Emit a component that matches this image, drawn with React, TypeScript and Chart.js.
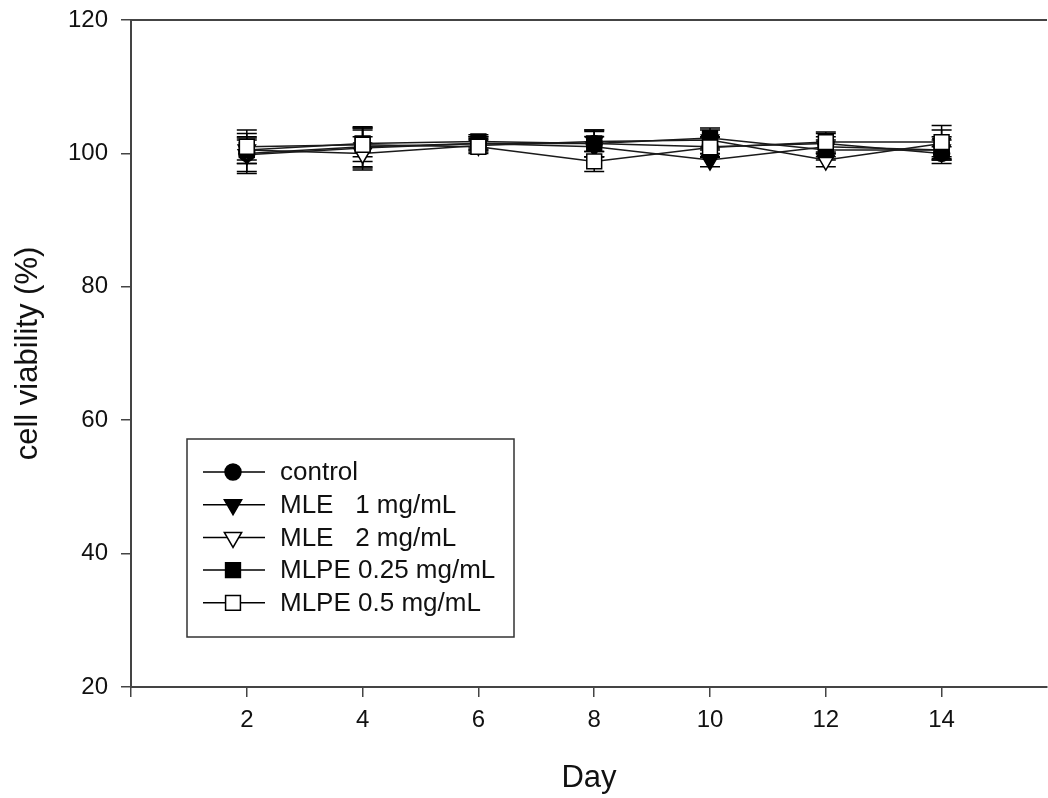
import React, { useEffect, useRef } from "react";
import { Chart, registerables } from "chart.js";

Chart.register(...registerables);

const days = [2, 4, 6, 8, 10, 12, 14];
const xTicks = [0, 2, 4, 6, 8, 10, 12, 14];
const yTicks = [20, 40, 60, 80, 100, 120];

const seriesNames = ["control", "MLE   1 mg/mL", "MLE   2 mg/mL", "MLPE 0.25 mg/mL", "MLPE 0.5 mg/mL"];

const control = [100.0, 101.0, 101.5, 101.5, 101.0, 101.5, 100.0];
const controlErr = [3.0, 3.0, 1.0, 2.0, 1.5, 1.5, 1.0];
const mle1 = [99.8, 100.8, 101.5, 101.0, 99.0, 101.0, 100.5];
const mle1Err = [2.5, 3.0, 1.0, 1.5, 1.0, 1.5, 1.5];
const mle2 = [100.5, 100.0, 101.2, 101.8, 102.0, 99.0, 101.5];
const mle2Err = [2.0, 2.5, 1.0, 1.5, 1.5, 1.0, 2.0];
const mlpe025 = [100.5, 101.5, 101.8, 101.5, 102.3, 100.5, 100.5];
const mlpe025Err = [1.5, 2.0, 1.0, 2.0, 1.5, 1.5, 2.0];
const mlpe05 = [101.0, 101.3, 101.0, 98.8, 100.9, 101.7, 101.7];
const mlpe05Err = [2.5, 2.5, 1.0, 1.5, 1.5, 1.5, 2.5];

const seriesValues = [control, mle1, mle2, mlpe025, mlpe05];
const seriesErrors = [controlErr, mle1Err, mle2Err, mlpe025Err, mlpe05Err];

const FONT = "'Liberation Sans', Arial, sans-serif";
const INK = "#111";
const AXIS = "#444";

type MarkerKind = { shape: "circle" | "tri" | "rect"; fill: string; radius: number };
const markers: MarkerKind[] = [
  { shape: "circle", fill: "#000", radius: 8 },
  { shape: "tri", fill: "#000", radius: 10 },
  { shape: "tri", fill: "#fff", radius: 10 },
  { shape: "rect", fill: "#000", radius: 10.5 },
  { shape: "rect", fill: "#fff", radius: 10.5 },
];

function drawMarker(ctx: CanvasRenderingContext2D, m: MarkerKind, x: number, y: number, r: number) {
  ctx.beginPath();
  if (m.shape === "circle") {
    ctx.arc(x, y, r, 0, Math.PI * 2);
  } else if (m.shape === "tri") {
    for (let k = 0; k < 3; k++) {
      const a = Math.PI + (k * 2 * Math.PI) / 3;
      const px = x + Math.sin(a) * r;
      const py = y - Math.cos(a) * r;
      if (k === 0) ctx.moveTo(px, py);
      else ctx.lineTo(px, py);
    }
    ctx.closePath();
  } else {
    const s = r * Math.SQRT1_2;
    ctx.rect(x - s, y - s, 2 * s, 2 * s);
  }
  ctx.fillStyle = m.fill;
  ctx.fill();
  ctx.strokeStyle = "#000";
  ctx.lineWidth = 1.5;
  ctx.stroke();
}

const errorBarPlugin = {
  id: "errorBars",
  beforeDatasetsDraw(chart: any) {
    const ctx = chart.ctx as CanvasRenderingContext2D;
    const xs = chart.scales.x;
    const ys = chart.scales.y;
    ctx.save();
    ctx.strokeStyle = "#000";
    ctx.lineWidth = 1.5;
    seriesValues.forEach((vals, i) => {
      vals.forEach((v, j) => {
        const e = seriesErrors[i][j];
        const x = xs.getPixelForValue(days[j]);
        const yt = ys.getPixelForValue(v + e);
        const yb = ys.getPixelForValue(v - e);
        ctx.beginPath();
        ctx.moveTo(x, yt);
        ctx.lineTo(x, yb);
        ctx.moveTo(x - 10, yt);
        ctx.lineTo(x + 10, yt);
        ctx.moveTo(x - 10, yb);
        ctx.lineTo(x + 10, yb);
        ctx.stroke();
      });
    });
    ctx.restore();
  },
};

const decorPlugin = {
  id: "decor",
  afterDraw(chart: any) {
    const ctx = chart.ctx as CanvasRenderingContext2D;
    const a = chart.chartArea;
    ctx.save();
    // top frame line
    ctx.strokeStyle = AXIS;
    ctx.lineWidth = 2;
    ctx.beginPath();
    ctx.moveTo(a.left, a.top);
    ctx.lineTo(a.right, a.top);
    ctx.stroke();

    // axis titles
    ctx.fillStyle = INK;
    ctx.font = `31px ${FONT}`;
    ctx.textAlign = "center";
    ctx.textBaseline = "middle";
    ctx.fillText("Day", (a.left + a.right) / 2, 778);
    ctx.save();
    ctx.translate(28, (a.top + a.bottom) / 2);
    ctx.rotate(-Math.PI / 2);
    ctx.fillText("cell viability (%)", 0, 0);
    ctx.restore();

    // legend
    const bx = a.left + 56;
    const by = a.top + 419;
    ctx.strokeStyle = "#333";
    ctx.lineWidth = 1.5;
    ctx.strokeRect(bx, by, 327, 198);
    ctx.font = `26px ${FONT}`;
    ctx.textAlign = "left";
    seriesNames.forEach((name, i) => {
      const y = by + 33 + i * 32.7;
      ctx.strokeStyle = "#000";
      ctx.lineWidth = 1.5;
      ctx.beginPath();
      ctx.moveTo(bx + 16, y);
      ctx.lineTo(bx + 78, y);
      ctx.stroke();
      drawMarker(ctx, markers[i], bx + 46, y, markers[i].radius);
      ctx.fillStyle = INK;
      ctx.fillText(name, bx + 93, y + 1);
    });
    ctx.restore();
  },
};

export default function App() {
  const ref = useRef<HTMLCanvasElement | null>(null);
  useEffect(() => {
    if (!ref.current) return;
    const datasets = seriesValues.map((vals, i) => {
      const m = markers[i];
      return {
        label: seriesNames[i],
        data: vals.map((v, j) => ({ x: days[j], y: v })),
        borderColor: "#1a1a1a",
        borderWidth: 1.5,
        backgroundColor: m.fill,
        pointBackgroundColor: m.fill,
        pointBorderColor: "#000",
        pointBorderWidth: 1.5,
        pointRadius: m.radius,
        pointHoverRadius: m.radius,
        pointStyle: m.shape === "circle" ? "circle" : m.shape === "tri" ? "triangle" : "rect",
        pointRotation: m.shape === "tri" ? 180 : 0,
        tension: 0,
        fill: false,
        order: 4 - i,
      };
    });
    const chart = new Chart(ref.current, {
      type: "line",
      data: { datasets } as any,
      options: {
        animation: false,
        responsive: false,
        maintainAspectRatio: false,
        layout: { autoPadding: false, padding: { top: 20, right: 1, left: 0, bottom: 0 } },
        plugins: { legend: { display: false }, tooltip: { enabled: false } },
        scales: {
          x: {
            type: "linear",
            min: 0,
            max: 15.82,
            afterFit: (s: any) => {
              s.height = 111;
              s.paddingLeft = 0;
              s.paddingRight = 0;
            },
            afterBuildTicks: (s: any) => {
              s.ticks = xTicks.map((v) => ({ value: v }));
            },
            ticks: {
              autoSkip: false,
              maxRotation: 0,
              padding: 9,
              color: INK,
              font: { family: FONT, size: 24 },
              callback: (v: any) => (v === 0 ? "" : String(v)),
            },
            grid: { drawOnChartArea: false, drawTicks: true, tickLength: 10, color: AXIS, lineWidth: 1.5 },
            border: { display: true, color: AXIS, width: 2 },
          },
          y: {
            type: "linear",
            min: 20,
            max: 120,
            afterFit: (s: any) => {
              s.width = 131;
              s.paddingTop = 0;
              s.paddingBottom = 0;
            },
            afterBuildTicks: (s: any) => {
              s.ticks = yTicks.map((v) => ({ value: v }));
            },
            ticks: {
              autoSkip: false,
              padding: 13,
              color: INK,
              font: { family: FONT, size: 24 },
              callback: (v: any) => String(v),
            },
            grid: { drawOnChartArea: false, drawTicks: true, tickLength: 10, color: AXIS, lineWidth: 1.5 },
            border: { display: true, color: AXIS, width: 2 },
          },
        },
      },
      plugins: [errorBarPlugin, decorPlugin],
    });
    return () => chart.destroy();
  }, []);
  return (
    <canvas
      ref={ref}
      width={1048}
      height={798}
      style={{ position: "absolute", left: 0, top: 0, width: 1048, height: 798, display: "block" }}
    />
  );
}
